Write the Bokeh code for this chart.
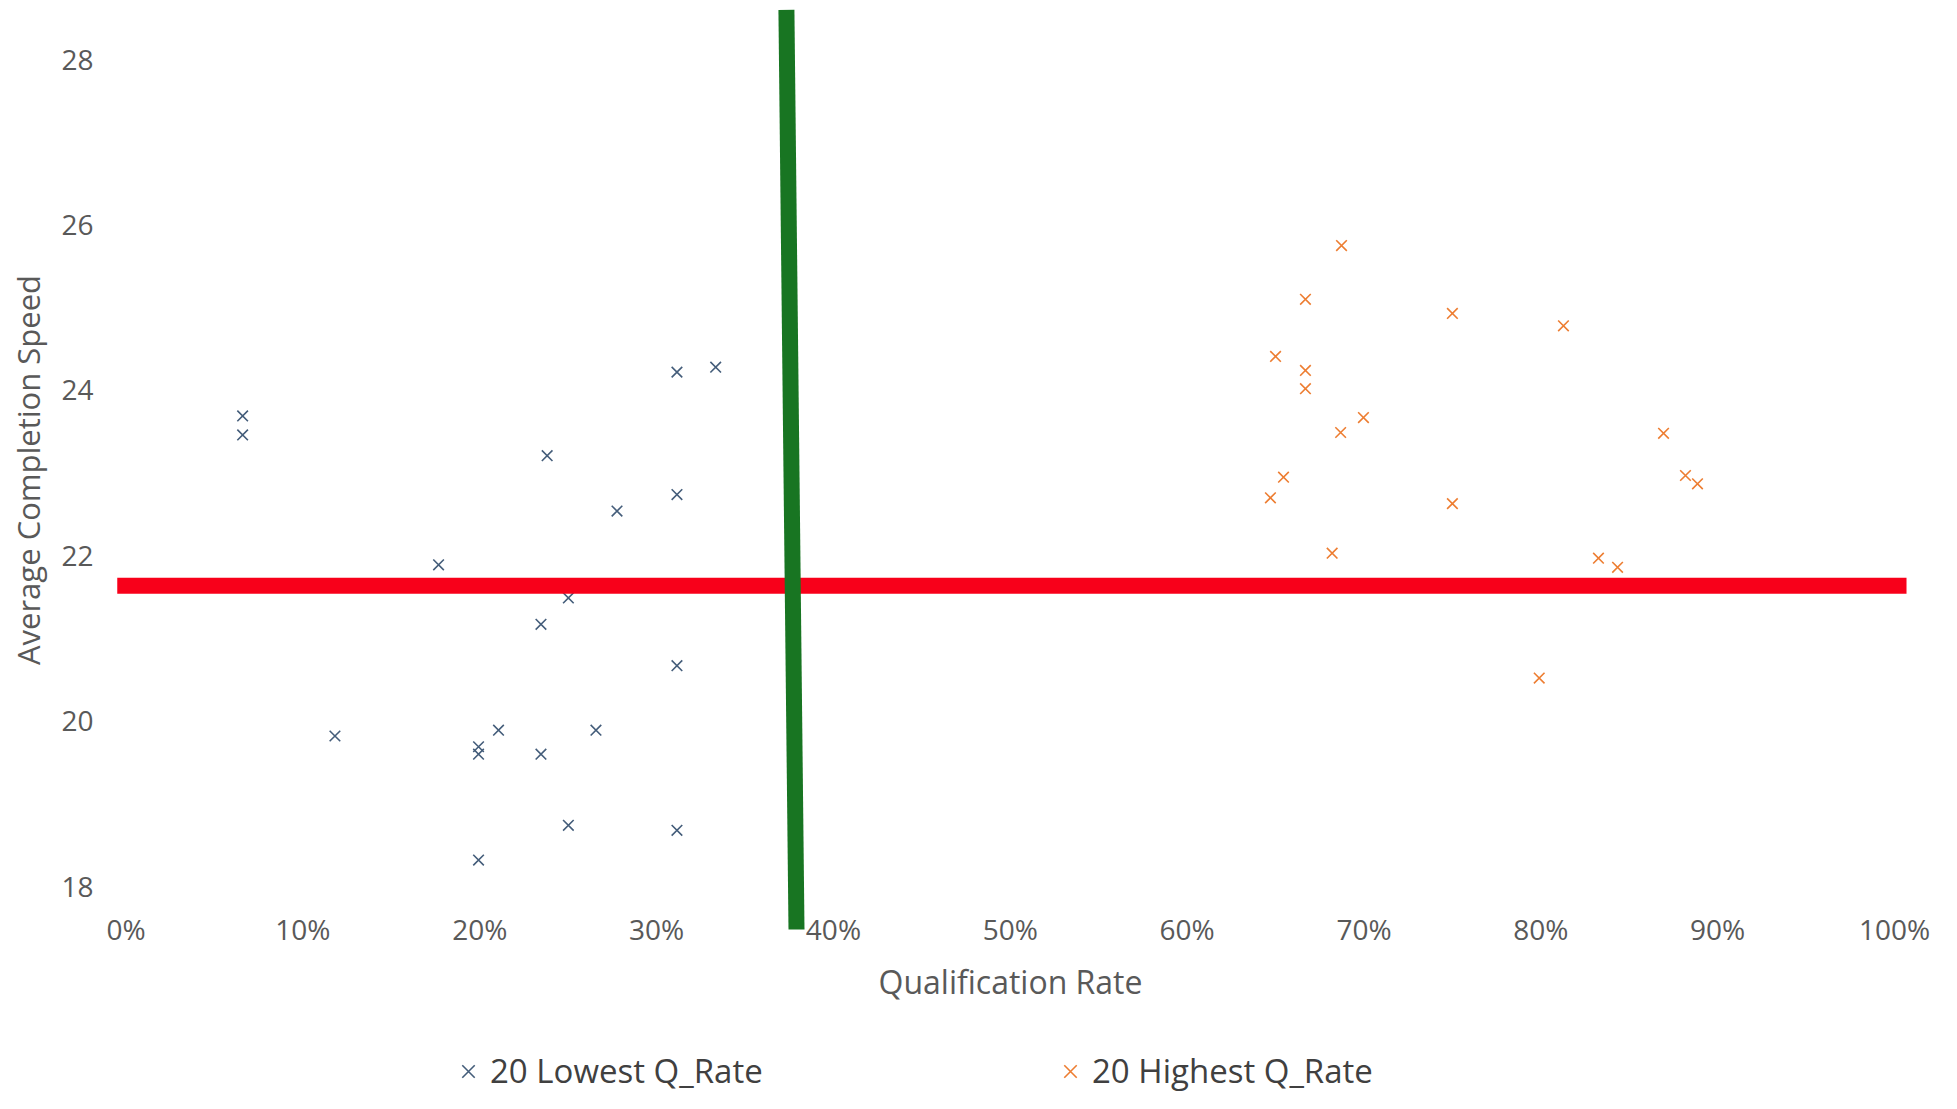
from bokeh.plotting import figure
from bokeh.layouts import column
from bokeh.models import Legend, LegendItem, FixedTicker, NumeralTickFormatter, Range1d
from bokeh.embed import file_html
from bokeh.resources import INLINE

# ---- data ----
low_q = [0.0659, 0.0659, 0.3115, 0.3334, 0.2381, 0.2776, 0.3115, 0.1767, 0.2501, 0.2346,
         0.3115, 0.1181, 0.1993, 0.1993, 0.2106, 0.2346, 0.2657, 0.2501, 0.3115, 0.1993]
low_speed = [23.69, 23.46, 24.22, 24.28, 23.21, 22.54, 22.74, 21.89, 21.49, 21.17,
             20.67, 19.82, 19.69, 19.60, 19.89, 19.60, 19.89, 18.74, 18.68, 18.32]

high_q = [0.6873, 0.6669, 0.7500, 0.6500, 0.6669, 0.6669, 0.6997, 0.6868, 0.6545, 0.6471,
          0.7500, 0.8128, 0.8694, 0.8818, 0.8886, 0.8326, 0.8434, 0.6820, 0.7991]
high_speed = [25.75, 25.10, 24.93, 24.41, 24.24, 24.02, 23.67, 23.49, 22.95, 22.70,
              22.63, 24.78, 23.48, 22.97, 22.87, 21.97, 21.86, 22.03, 20.52]

series_names = ["20 Lowest Q_Rate", "20 Highest Q_Rate"]
series_colors = ["#445d7a", "#ED7D31"]

x_ticks = [0.0, 0.1, 0.2, 0.3, 0.4, 0.5, 0.6, 0.7, 0.8, 0.9, 1.0]
y_ticks = [18, 20, 22, 24, 26, 28]

avg_line_q = [-0.005, 1.0068]
avg_line_speed = [21.636, 21.636]
cut_line_q = [0.3734, 0.3791]
cut_line_speed = [28.60, 17.48]

GRAY = "#595959"
FONT = "Open Sans"
W = 1941

p = figure(width=W, height=1010, output_backend="svg", toolbar_location=None,
           x_range=Range1d(-0.00769, 1.00792), y_range=Range1d(17.456, 28.617),
           min_border_left=112, min_border_right=33, min_border_top=8, min_border_bottom=79)

p.background_fill_color = "white"
p.border_fill_color = "white"
p.outline_line_color = None
p.grid.visible = False

p.scatter(low_q, low_speed, marker="x", size=15, line_width=1.6, line_color=series_colors[0])
p.scatter(high_q, high_speed, marker="x", size=15, line_width=1.6, line_color=series_colors[1])

p.line(avg_line_q, avg_line_speed, line_width=16, line_color="#F8001A", line_cap="butt")
p.line(cut_line_q, cut_line_speed, line_width=16, line_color="#187522", line_cap="butt")

for ax in (p.xaxis[0], p.yaxis[0]):
    ax.axis_line_color = None
    ax.major_tick_line_color = None
    ax.minor_tick_line_color = None
    ax.major_label_text_font = FONT
    ax.major_label_text_font_size = "28px"
    ax.major_label_text_color = GRAY
    ax.axis_label_text_font = FONT
    ax.axis_label_text_font_style = "normal"
    ax.axis_label_text_color = GRAY

p.xaxis.ticker = FixedTicker(ticks=x_ticks)
p.xaxis.formatter = NumeralTickFormatter(format="0%")
p.xaxis.axis_label = "Qualification Rate"
p.xaxis.axis_label_text_font_size = "32px"
p.xaxis.major_label_standoff = -28
p.xaxis.axis_label_standoff = 9

p.yaxis.ticker = FixedTicker(ticks=y_ticks)
p.yaxis.axis_label = "Average Completion Speed"
p.yaxis.axis_label_text_font_size = "31px"
p.yaxis.major_label_standoff = 13
p.yaxis.axis_label_standoff = 9

# legend strip below the chart (its range keeps the series' own marks out of view)
lg = figure(width=W, height=83, output_backend="svg", toolbar_location=None,
            x_range=Range1d(0, 1), y_range=Range1d(0, 1),
            x_axis_location=None, y_axis_location=None,
            min_border_left=0, min_border_right=0, min_border_top=0, min_border_bottom=0)
lg.grid.visible = False
lg.outline_line_color = None
lg.background_fill_color = "white"
lg.border_fill_color = "white"

lg_low = lg.scatter(low_q, low_speed, marker="x", size=15, line_width=1.6, line_color=series_colors[0])
lg_high = lg.scatter(high_q, high_speed, marker="x", size=15, line_width=1.6, line_color=series_colors[1])

legend = Legend(items=[LegendItem(label=series_names[0], renderers=[lg_low]),
                       LegendItem(label=series_names[1], renderers=[lg_high])],
                location=(334, 0), orientation="horizontal", spacing=82,
                padding=0, margin=0, border_line_color=None, background_fill_alpha=0,
                glyph_width=44, glyph_height=44, label_standoff=0, label_width=476,
                label_text_font=FONT, label_text_font_size="33px", label_text_color="#404040")
lg.add_layout(legend)

layout = column(p, lg, spacing=0)
open("out.html", "w").write(file_html(layout, INLINE))
